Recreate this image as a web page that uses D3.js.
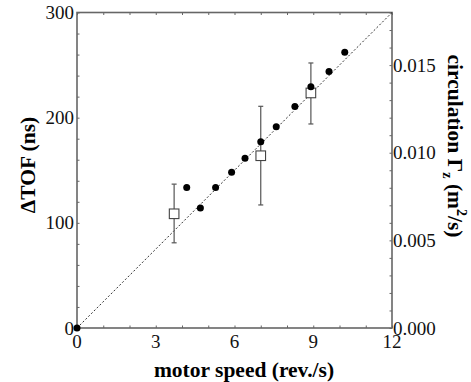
<!DOCTYPE html>
<html><head><meta charset="utf-8">
<script src="https://cdn.jsdelivr.net/npm/d3@7"></script>
<style>body{margin:0;background:#fff}svg{display:block}</style>
</head><body>
<script>
// Data
const circleSpeed = [0, 4.18, 4.70, 5.28, 5.89, 6.40, 7.00, 7.59, 8.30, 8.91, 9.60, 10.20];
const circleTOF   = [0, 133.6, 114, 133.6, 148, 161.5, 177, 191.4, 210.5, 229.5, 243.8, 262.2];
const squareSpeed = [3.70, 7.00, 8.91];
const squareTOF   = [108.6, 163.8, 223.5];
const squareErrLo = [81, 117, 194];
const squareErrHi = [136.8, 210.8, 252];
const fitLine = [[0, 0], [12, 300]];
const xTicks = [0, 3, 6, 9, 12];
const yTicks = [0, 100, 200, 300];
const y2Ticks = [0, 0.005, 0.010, 0.015];
const y2TickLabels = ["0.000", "0.005", "0.010", "0.015"];

const W = 471, H = 382;
const m = {l: 77, r: 392, t: 12.5, b: 328};
const svg = d3.select("body").append("svg").attr("width", W).attr("height", H);
const x = d3.scaleLinear().domain([0, 12]).range([m.l, m.r]);
const y = d3.scaleLinear().domain([0, 300]).range([m.b, m.t]);
const y2 = d3.scaleLinear().domain([0, 0.018]).range([m.b, m.t]);
const font = "'Liberation Serif', 'Times New Roman', serif";
const axisCol = "#666";

function axisStyle(g) {
  g.select(".domain").remove();
  g.selectAll("line").attr("stroke", axisCol).attr("stroke-width", 1);
  g.selectAll("text").remove();
}
svg.append("g").attr("transform", `translate(0,${m.b})`)
  .call(d3.axisTop(x).tickValues(d3.range(0, 13, 1)).tickSize(2.5)).call(axisStyle);
svg.append("g").attr("transform", `translate(0,${m.t})`)
  .call(d3.axisBottom(x).tickValues(d3.range(0, 13, 1)).tickSize(2.5)).call(axisStyle);
svg.append("g").attr("transform", `translate(${m.l},0)`)
  .call(d3.axisRight(y).tickValues(d3.range(0, 301, 20)).tickSize(2.5)).call(axisStyle);
svg.append("g").attr("transform", `translate(${m.r},0)`)
  .call(d3.axisLeft(y2).tickValues(d3.range(0, 19).map(d => d / 1000)).tickSize(2.5)).call(axisStyle);

// frame
svg.append("rect").attr("x", m.l).attr("y", m.t).attr("width", m.r - m.l).attr("height", m.b - m.t)
  .attr("fill", "none").attr("stroke", axisCol).attr("stroke-width", 1.6);

// tick labels
const tl = svg.append("g").attr("font-family", font).attr("font-size", 19).attr("fill", "#111");
tl.selectAll(".xl").data(xTicks).join("text").attr("x", d => x(d)).attr("y", 348)
  .attr("text-anchor", "middle").text(d => d);
tl.selectAll(".yl").data(yTicks).join("text").attr("x", m.l - 3).attr("y", d => y(d) + 6.5)
  .attr("text-anchor", "end").text(d => d);
tl.selectAll(".y2l").data(y2Ticks).join("text").attr("x", m.r + 1).attr("y", (d, i) => y2(d) + 6.5)
  .attr("text-anchor", "start").text((d, i) => y2TickLabels[i]);

// fit line
svg.append("line").attr("x1", x(fitLine[0][0])).attr("y1", y(fitLine[0][1]))
  .attr("x2", x(fitLine[1][0])).attr("y2", y(fitLine[1][1]))
  .attr("stroke", "#333").attr("stroke-width", 1).attr("stroke-dasharray", "2,2");

// error bars
const eb = svg.append("g").attr("stroke", "#555").attr("stroke-width", 1.2);
squareSpeed.forEach((s, i) => {
  eb.append("line").attr("x1", x(s)).attr("x2", x(s)).attr("y1", y(squareErrLo[i])).attr("y2", y(squareErrHi[i]));
  [squareErrLo[i], squareErrHi[i]].forEach(v => eb.append("line").attr("x1", x(s) - 2.5).attr("x2", x(s) + 2.5)
    .attr("y1", y(v)).attr("y2", y(v)));
});
// squares
svg.selectAll(".sq").data(squareSpeed).join("rect")
  .attr("x", d => x(d) - 4.8).attr("y", (d, i) => y(squareTOF[i]) - 4.8)
  .attr("width", 9.6).attr("height", 9.6).attr("fill", "#fff").attr("stroke", "#444").attr("stroke-width", 1.1);
// circles
svg.selectAll(".ci").data(circleSpeed).join("circle")
  .attr("cx", d => x(d)).attr("cy", (d, i) => y(circleTOF[i])).attr("r", 3.5).attr("fill", "#000");

// titles
svg.append("text").attr("x", 244).attr("y", 377).attr("text-anchor", "middle")
  .attr("font-family", font).attr("font-size", 21.5).attr("font-weight", "bold").text("motor speed (rev./s)");
svg.append("text").attr("transform", "translate(35,165) rotate(-90)").attr("text-anchor", "middle")
  .attr("font-family", font).attr("font-size", 21.5).attr("font-weight", "bold").text("\u0394TOF (ns)");
const rt = svg.append("text").attr("transform", "translate(448,146) rotate(90)").attr("text-anchor", "middle")
  .attr("font-family", font).attr("font-size", 21.5).attr("font-weight", "bold");
rt.append("tspan").text("circulation \u0393");
rt.append("tspan").attr("font-size", 14).attr("dy", 5).text("z");
rt.append("tspan").attr("dy", -5).text(" (m");
rt.append("tspan").attr("font-size", 14).attr("dy", -9).text("2");
rt.append("tspan").attr("dy", 9).text("/s)");
</script>
</body></html>
